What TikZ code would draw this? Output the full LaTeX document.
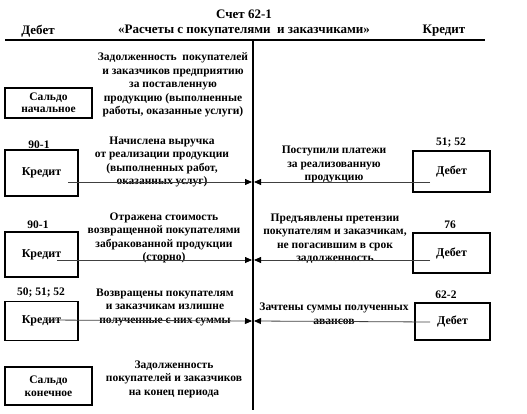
\documentclass[tikz,border=0pt]{standalone}
\usepackage{fontspec}
\setmainfont{Liberation Serif}
\usetikzlibrary{arrows.meta}
\tikzset{
  txt/.style={align=center, font=\bfseries\fontsize{11.5}{13.5}\selectfont, inner sep=0pt},
  hdr/.style={align=center, font=\bfseries\fontsize{13}{14}\selectfont, inner sep=0pt},
  acc/.style={draw, line width=1.4pt, inner sep=0pt, align=center, font=\bfseries\fontsize{12}{12.5}\selectfont},
  sal/.style={acc, font=\bfseries\fontsize{11.5}{12.5}\selectfont},
  arr/.style={line width=0.8pt, draw=black!75, -{Triangle[length=7pt,width=6pt,fill=black,color=black]}},
  mainline/.style={line width=1.6pt},
}
\begin{document}
\begin{tikzpicture}[x=1pt,y=-1pt]
\useasboundingbox (0,0) rectangle (527,414);
% header
\node[hdr] (title) at (244,14) {Счет 62-1};
\node[hdr] (deb) at (38,31) {Дебет};
\node[hdr] (name) at (244,31) {«Расчеты с покупателями\ \ и заказчиками»};
\node[hdr] (kred) at (444,31) {Кредит};
\coordinate (hl) at (5,40);
\coordinate (hr) at (485,40);
\draw[mainline] (hl) -- (hr);
\coordinate (vt) at (253,40);
\coordinate (vb) at (253,410);
\draw[line width=2pt] (vt) -- (vb);
% opening balance
\node[sal, minimum width=87pt, minimum height=30pt] (sn) at (48.5,103) {Сальдо\\начальное};
\node[txt] (t1) at (173,85) {Задолженность\ \ покупателей\\и заказчиков предприятию\\за поставленную\\продукцию (выполненные\\работы, оказанные услуги)};
% row 2
\node[txt] (l2) at (39,145) {90-1};
\node[acc, minimum width=73pt, minimum height=46pt] (k2) at (41.5,173) {Кредит};
\node[txt] (t2l) at (162,162) {Начислена выручка\\от реализации продукции\\(выполненных работ,\\оказанных услуг)};
\node[txt] (r2) at (451,143) {51; 52};
\node[acc, minimum width=77pt, minimum height=41pt] (d2) at (451.5,171.5) {Дебет};
\node[txt] (t2r) at (334,164.5) {Поступили платежи\\за реализованную\\продукцию};
\coordinate (s2l) at (68,182);
\coordinate (e2l) at (252,182);
\coordinate (s2r) at (430,182);
\coordinate (e2r) at (254,182);
\draw[arr] (s2l) -- (e2l);
\draw[arr] (s2r) -- (e2r);
% row 3
\node[txt] (l3) at (38,225) {90-1};
\node[acc, minimum width=73pt, minimum height=45pt] (k3) at (41.5,254.5) {Кредит};
\node[txt] (t3l) at (164,238) {Отражена стоимость\\возвращенной покупателями\\забракованной продукции\\(сторно)};
\node[txt] (r3) at (450,225) {76};
\node[acc, minimum width=77pt, minimum height=40pt] (d3) at (451.5,253) {Дебет};
\node[txt] (t3r) at (335,238.5) {Предъявлены претензии\\покупателям и заказчикам,\\не погасившим в срок\\задолженность};
\coordinate (s3l) at (57,260);
\coordinate (e3l) at (252,260);
\coordinate (s3r) at (430,260);
\coordinate (e3r) at (254,260);
\draw[arr] (s3l) -- (e3l);
\draw[arr] (s3r) -- (e3r);
% row 4
\node[txt] (l4) at (41,293) {50; 51; 52};
\node[acc, minimum width=73pt, minimum height=39pt] (k4) at (41.5,321) {Кредит};
\node[txt] (t4l) at (165,307) {Возвращены покупателям\\и заказчикам излишне\\полученные с них суммы};
\node[txt] (r4) at (446,295) {62-2};
\node[acc, minimum width=75pt, minimum height=37pt] (d4) at (452.5,321.5) {Дебет};
\node[txt] (t4r) at (334,313.5) {Зачтены суммы полученных\\авансов};
\coordinate (s4l) at (45,320);
\coordinate (e4l) at (252,321);
\coordinate (s4r) at (430,322);
\coordinate (e4r) at (254,321);
\draw[arr] (s4l) -- (e4l);
\draw[arr] (s4r) -- (e4r);
% closing balance
\node[sal, minimum width=87pt, minimum height=38pt] (sk) at (48.5,386) {Сальдо\\конечное};
\node[txt] (t5) at (174,379) {Задолженность\\покупателей и заказчиков\\на конец периода};
\end{tikzpicture}
\end{document}
